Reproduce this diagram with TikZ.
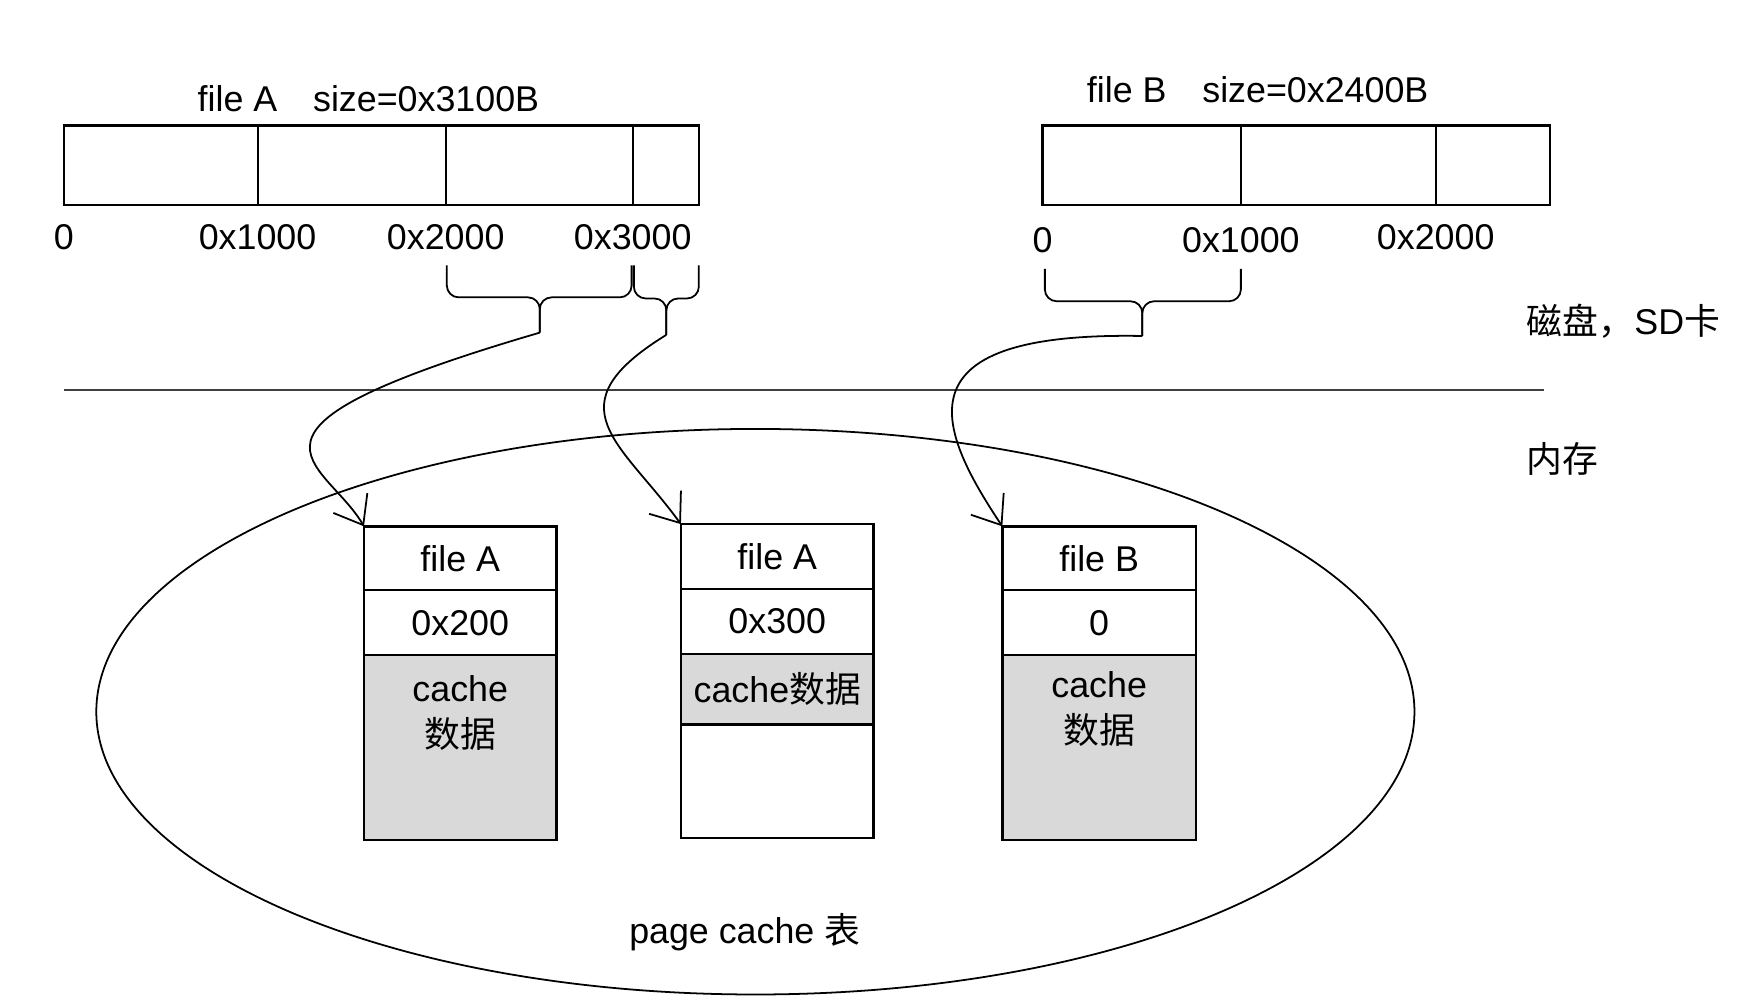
\documentclass[tikz,border=0pt]{standalone}
\usepackage{fontspec}
\setmainfont{Liberation Sans}
\newfontfamily\cjk{Noto Sans CJK SC}
\usetikzlibrary{positioning, shapes.geometric, arrows.meta}
\definecolor{cachegray}{RGB}{217,217,217}

\begin{document}
\begin{tikzpicture}[font=\fontsize{9.1}{11.7}\selectfont]

		% Setup the styles for the file bars, the cache entries and the links
		\tikzset{bar style/.style={minimum height=0.71cm, inner sep=0pt, outer sep=0pt},
				cell style/.style={draw, line width=0.6pt, inner sep=0pt, outer sep=0pt},
				link style/.style={line width=0.45pt, -{Straight Barb[length=6.5pt, width=10pt]}},
				brace style/.style={line width=0.45pt, rounded corners=3pt}}

		\useasboundingbox (0, 0) rectangle (15.68, -9.00);

		% File A on the disk
		\node at (3.29, -0.88) (filea) {file A\quad size=0x3100B};
		\node[bar style, minimum width=1.73cm, anchor=north west] at (0.57, -1.12) (a0) {};
		\node[bar style, minimum width=1.68cm, right=0pt of a0] (a1) {};
		\node[bar style, minimum width=1.67cm, right=0pt of a1] (a2) {};
		\node[bar style, minimum width=0.59cm, right=0pt of a2] (a3) {};
		\draw[line width=0.6pt] (a0.north west) rectangle (a3.south east);
		\draw[line width=0.5pt] (a1.north west) -- (a1.south west) (a2.north west) -- (a2.south west) (a3.north west) -- (a3.south west);
		\node[below=0.05cm of a0.south west] (a0lbl) {0};
		\node[below=0.05cm of a1.south west] (a1lbl) {0x1000};
		\node[below=0.05cm of a2.south west] (a2lbl) {0x2000};
		\node[below=0.05cm of a3.south west] (a3lbl) {0x3000};

		% File B on the disk
		\node at (11.23, -0.80) (fileb) {file B\quad size=0x2400B};
		\node[bar style, minimum width=1.77cm, anchor=north west] at (9.31, -1.12) (b0) {};
		\node[bar style, minimum width=1.74cm, right=0pt of b0] (b1) {};
		\node[bar style, minimum width=1.02cm, right=0pt of b1] (b2) {};
		\draw[line width=0.6pt] (b0.north west) rectangle (b2.south east);
		\draw[line width=0.4pt] (b1.north west) -- (b1.south west) (b2.north west) -- (b2.south west);
		\node[below=0.08cm of b0.south west] (b0lbl) {0};
		\node[below=0.08cm of b1.south west] (b1lbl) {0x1000};
		\node[below=0.05cm of b2.south west] (b2lbl) {0x2000};

		% Braces under the pages
		\coordinate (tipa1) at (4.82, -2.97);
		\coordinate (tipa2) at (5.95, -2.99);
		\coordinate (tipb) at (10.20, -3.00);
		\draw[brace style] (3.99, -2.37) -- (3.99, -2.655) -- (4.82, -2.655) -- (tipa1);
		\draw[brace style] (5.64, -2.37) -- (5.64, -2.655) -- (4.82, -2.655) -- (tipa1);
		\draw[brace style] (5.66, -2.37) -- (5.66, -2.665) -- (5.95, -2.665) -- (tipa2);
		\draw[brace style] (6.24, -2.37) -- (6.24, -2.665) -- (5.95, -2.665) -- (tipa2);
		\draw[brace style] (9.33, -2.40) -- (9.33, -2.69) -- (10.20, -2.69) -- (tipb);
		\draw[brace style] (11.08, -2.40) -- (11.08, -2.69) -- (10.20, -2.69) -- (tipb);

		% Disk / memory
		\draw[line width=0.45pt, black!75] (0.57, -3.48) -- (13.79, -3.48);
		\node[anchor=west] at (13.51, -2.87) (disk) {{\cjk 磁盘，}SD{\cjk 卡}};
		\node[anchor=west] at (13.51, -4.10) (memory) {{\cjk 内存}};

		% The page cache table
		\node[draw, ellipse, line width=0.45pt, minimum width=11.77cm, minimum height=5.05cm, inner sep=0pt] at (6.745, -6.355) (pagecache) {};
		\node at (6.65, -8.32) (tablelbl) {page cache {\cjk 表}};

		\node[cell style, minimum width=1.72cm, minimum height=0.57cm, anchor=north west] at (3.25, -4.70) (entrya) {file A};
		\node[cell style, minimum width=1.72cm, minimum height=0.58cm, below=0pt of entrya] (entryaoff) {0x200};
		\node[cell style, minimum width=1.72cm, minimum height=1.65cm, fill=cachegray, below=0pt of entryaoff] (entryadata) {};
		\node[below=0.06cm of entryadata.north, align=center] (entryatext) {cache\\{\cjk 数据}};

		\node[cell style, minimum width=1.72cm, minimum height=0.58cm, anchor=north west] at (6.08, -4.68) (entryb) {file A};
		\node[cell style, minimum width=1.72cm, minimum height=0.58cm, below=0pt of entryb] (entryboff) {0x300};
		\node[cell style, minimum width=1.72cm, minimum height=0.63cm, fill=cachegray, below=0pt of entryboff] (entrybdata) {cache{\cjk 数据}};
		\node[cell style, minimum width=1.72cm, minimum height=1.01cm, below=0pt of entrybdata] (entrybfree) {};

		\node[cell style, minimum width=1.73cm, minimum height=0.57cm, anchor=north west] at (8.95, -4.70) (entryc) {file B};
		\node[cell style, minimum width=1.73cm, minimum height=0.58cm, below=0pt of entryc] (entrycoff) {0};
		\node[cell style, minimum width=1.73cm, minimum height=1.65cm, fill=cachegray, below=0pt of entrycoff] (entrycdata) {};
		\node[below=0.02cm of entrycdata.north, align=center] (entryctext) {cache\\{\cjk 数据}};

		% Connect the pages with the cache entries
		\draw[link style] (tipa1) .. controls +(-3.01, -0.88) and +(-0.35, 0.60) .. (entrya.north west);
		\draw[link style] (tipa2) .. controls +(-1.04, -0.64) and +(-0.53, 0.73) .. (entryb.north west);
		\draw[link style] (tipb) .. controls +(-2.18, 0.04) and +(-0.60, 0.90) .. (entryc.north west);
\end{tikzpicture}
\end{document}
